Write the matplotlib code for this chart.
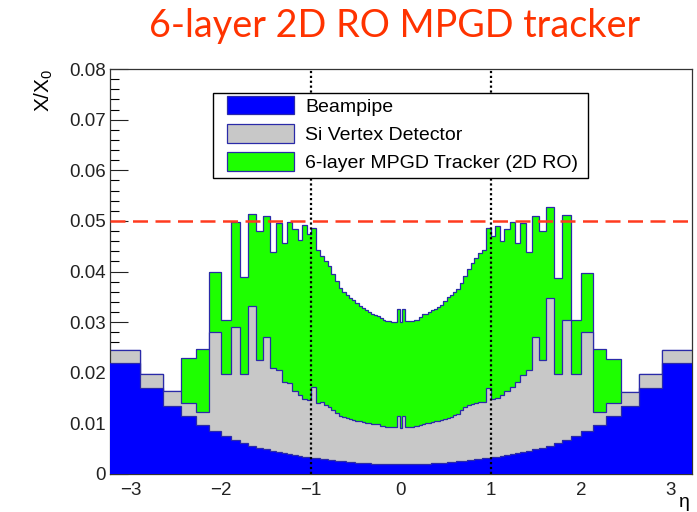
import numpy as np
import matplotlib
matplotlib.use("Agg")
import matplotlib.pyplot as plt
from matplotlib.patches import Patch, Rectangle
from matplotlib.ticker import MultipleLocator, FuncFormatter

plt.rcParams['font.family'] = ['Liberation Sans', 'DejaVu Sans']
plt.rcParams['mathtext.fontset'] = 'custom'
plt.rcParams['mathtext.rm'] = 'Liberation Sans'
plt.rcParams['mathtext.it'] = 'Liberation Sans:italic'

# ---- binning: uniform in polar angle theta (degrees), 95 bins ----
theta_first_deg = 175.5
theta_last_deg = 4.5
n_bins = 95

# ---- stack levels (cumulative X/X0), left (eta<0) to right ----
beampipe = [
    0.0220, 0.0169, 0.0135, 0.0114, 0.0097, 0.0085, 0.0076, 0.0068, 0.0062, 0.0056,
    0.0052, 0.0049, 0.0046, 0.0043, 0.0041, 0.0039, 0.0037, 0.0035, 0.0034, 0.0033,
    0.0032, 0.0031, 0.0030, 0.0029, 0.0028, 0.0027, 0.0026, 0.0025, 0.0025, 0.0024,
    0.0023, 0.0023, 0.0022, 0.0022, 0.0021, 0.0021, 0.0021, 0.0020, 0.0020, 0.0020,
    0.0020, 0.0019, 0.0019, 0.0019, 0.0019, 0.0019, 0.0019, 0.0019, 0.0019, 0.0019,
    0.0019, 0.0019, 0.0019, 0.0019, 0.0020, 0.0020, 0.0020, 0.0020, 0.0021, 0.0021,
    0.0021, 0.0022, 0.0022, 0.0023, 0.0023, 0.0024, 0.0025, 0.0025, 0.0026, 0.0027,
    0.0028, 0.0029, 0.0030, 0.0031, 0.0032, 0.0033, 0.0034, 0.0035, 0.0037, 0.0039,
    0.0041, 0.0043, 0.0046, 0.0049, 0.0052, 0.0056, 0.0062, 0.0068, 0.0076, 0.0085,
    0.0097, 0.0114, 0.0135, 0.0169, 0.0220,
]

beampipe_plus_si = [
    0.0245, 0.0197, 0.0163, 0.0141, 0.0122, 0.0281, 0.0197, 0.0291, 0.0197, 0.0331,
    0.0225, 0.0270, 0.0210, 0.0205, 0.0182, 0.0179, 0.0164, 0.0157, 0.0149, 0.0146,
    0.0171, 0.0140, 0.0142, 0.0137, 0.0133, 0.0127, 0.0120, 0.0115, 0.0112, 0.0110,
    0.0108, 0.0106, 0.0105, 0.0104, 0.0102, 0.0101, 0.0100, 0.0099, 0.0099, 0.0098,
    0.0095, 0.0094, 0.0093, 0.0093, 0.0092, 0.0092, 0.0114, 0.0091, 0.0114, 0.0092,
    0.0093, 0.0093, 0.0094, 0.0095, 0.0097, 0.0099, 0.0100, 0.0101, 0.0102, 0.0104,
    0.0105, 0.0107, 0.0109, 0.0111, 0.0113, 0.0116, 0.0118, 0.0126, 0.0133, 0.0136,
    0.0138, 0.0140, 0.0142, 0.0143, 0.0170, 0.0148, 0.0150, 0.0157, 0.0164, 0.0172,
    0.0182, 0.0196, 0.0205, 0.0270, 0.0225, 0.0347, 0.0197, 0.0304, 0.0197, 0.0281,
    0.0123, 0.0141, 0.0162, 0.0197, 0.0245,
]

total_with_mpgd = [
    0.0245, 0.0197, 0.0163, 0.0229, 0.0247, 0.0399, 0.0305, 0.0498, 0.0389, 0.0513,
    0.0480, 0.0509, 0.0438, 0.0496, 0.0457, 0.0498, 0.0483, 0.0462, 0.0491, 0.0475,
    0.0485, 0.0442, 0.0430, 0.0420, 0.0410, 0.0395, 0.0381, 0.0368, 0.0360, 0.0354,
    0.0348, 0.0343, 0.0337, 0.0331, 0.0327, 0.0324, 0.0320, 0.0317, 0.0315, 0.0313,
    0.0308, 0.0305, 0.0303, 0.0302, 0.0301, 0.0301, 0.0325, 0.0300, 0.0325, 0.0302,
    0.0302, 0.0303, 0.0304, 0.0305, 0.0310, 0.0316, 0.0317, 0.0320, 0.0323, 0.0326,
    0.0329, 0.0334, 0.0342, 0.0349, 0.0354, 0.0359, 0.0366, 0.0377, 0.0392, 0.0405,
    0.0416, 0.0427, 0.0437, 0.0442, 0.0485, 0.0471, 0.0490, 0.0460, 0.0483, 0.0498,
    0.0457, 0.0496, 0.0438, 0.0509, 0.0480, 0.0527, 0.0388, 0.0511, 0.0304, 0.0398,
    0.0247, 0.0228, 0.0162, 0.0197, 0.0245,
]

legend_labels = ["Beampipe", "Si Vertex Detector", "6-layer MPGD Tracker (2D RO)"]
title_text = "6-layer 2D RO MPGD tracker"
x_ticks = [-3, -2, -1, 0, 1, 2, 3]
y_ticks = [0, 0.01, 0.02, 0.03, 0.04, 0.05, 0.06, 0.07, 0.08]
eta_markers = [-1, 1]
budget_limit = 0.05

# ---- styles ----
c_blue = '#0000ff'
c_gray = '#c8c8c8'
c_green = '#1eff00'
c_outline = '#2a2aa8'
c_red = '#ff3b1f'
c_title = '#ff3300'

theta_edges = np.radians(np.linspace(theta_first_deg, theta_last_deg, n_bins + 1))
eta_edges = -np.log(np.tan(theta_edges / 2.0))

W, H = 697, 512
fig = plt.figure(figsize=(W / 100, H / 100), dpi=100)
ax = fig.add_axes([110 / W, 38 / H, 582 / W, 405 / H])

layers = [(total_with_mpgd, c_green, 1), (beampipe_plus_si, c_gray, 2), (beampipe, c_blue, 3)]
for vals, col, z in layers:
    ax.stairs(vals, eta_edges, baseline=0, fill=True, facecolor=col, edgecolor='none', zorder=z)
    ax.stairs(vals, eta_edges, baseline=None, fill=False, color=c_outline, lw=0.9, zorder=z + 0.1)

for e in eta_markers:
    ax.axvline(e, color='black', lw=1.6, ls=(0, (1, 1.2)), zorder=6)
ax.axhline(budget_limit, color=c_red, lw=1.8, dashes=(6, 3), zorder=7)

ax.set_xlim(eta_edges[0], eta_edges[-1])
ax.set_ylim(y_ticks[0], y_ticks[-1])
ax.set_xticks(x_ticks)
ax.set_yticks(y_ticks)
ax.xaxis.set_minor_locator(MultipleLocator(0.2))
ax.yaxis.set_minor_locator(MultipleLocator(0.002))
ax.yaxis.set_major_formatter(FuncFormatter(lambda v, p: '0' if abs(v) < 1e-9 else f'{v:.2f}'))
ax.xaxis.set_major_formatter(FuncFormatter(lambda v, p: f'{int(round(v))}'.replace('-', '\u2212')))
ax.set_axisbelow(True)
ax.tick_params(which='major', direction='in', length=13, width=0.8, labelsize=13.5,
               top=False, right=False, colors='#222222')
ax.tick_params(which='minor', direction='in', length=6.5, width=0.8, top=False, right=False)
ax.tick_params(axis='y', pad=3)
ax.tick_params(axis='x', pad=6)
for s in ax.spines.values():
    s.set_linewidth(0.9)
    s.set_color('#333333')

ax.set_ylabel('X/X$_0$', fontsize=15, loc='top')
ax.yaxis.set_label_coords(-0.095, 1.0)
ax.set_xlabel('\u03b7', fontsize=14, loc='right')
ax.xaxis.set_label_coords(0.997, -0.05)

# legend frame (ROOT-style box) and entries
fig.patches.append(Rectangle((213 / W, 1 - 177.5 / H), 375 / W, 84.5 / H,
                             transform=fig.transFigure, facecolor='white',
                             edgecolor='black', lw=1.0, zorder=9))
handles = [Patch(facecolor=c_blue, edgecolor=c_outline, lw=0.9),
           Patch(facecolor=c_gray, edgecolor=c_outline, lw=0.9),
           Patch(facecolor=c_green, edgecolor=c_outline, lw=0.9)]
leg = fig.legend(handles, legend_labels, loc='upper left',
                 bbox_to_anchor=(226.5 / W, 1 - 95.5 / H), bbox_transform=fig.transFigure,
                 fontsize=14, frameon=False,
                 handlelength=3.45, handleheight=1.12, handletextpad=0.6, labelspacing=0.42,
                 borderpad=0, borderaxespad=0)
leg.set_zorder(10)

t = fig.text(395 / W, 1 - 37 / H, title_text, color=c_title, fontsize=26,
             family=['Lato', 'DejaVu Sans'], ha='center', va='baseline')
fig.canvas.draw()
w = t.get_window_extent().width
t.set_fontsize(26 * 490 / w)

fig.savefig('out.png', dpi=100)
